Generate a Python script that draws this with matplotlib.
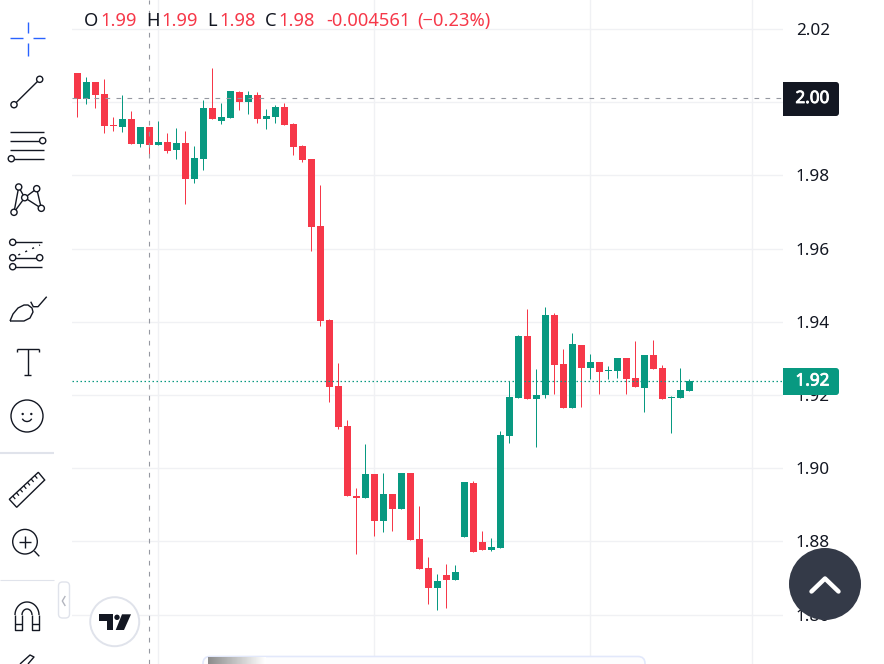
import matplotlib
matplotlib.use('Agg')
import matplotlib.pyplot as plt
import matplotlib.patheffects as pe
import numpy as np
from matplotlib.patches import Circle, FancyBboxPatch, Polygon, Rectangle, Arc

plt.rcParams['font.family'] = ['Noto Sans', 'DejaVu Sans']

RED = '#f63849'
GREEN = '#089981'
INK = '#131722'
GRID = '#f0f1f4'
CROSS = '#9598a1'
RULE = '#e0e3eb'

# OHLC
open_ = [2.0080, 2.0010, 2.0055, 2.0023, 1.9938, 1.9933, 1.9954, 1.9887, 1.9933, 1.9884,
         1.9892, 1.9871, 1.9889, 1.9791, 1.9846, 1.9984, 1.9950, 1.9958, 2.0028, 2.0002,
         2.0020, 1.9953, 1.9961, 1.9987, 1.9941, 1.9881, 1.9845, 1.9662, 1.9405, 1.9225,
         1.9116, 1.8924, 1.8920, 1.8984, 1.8857, 1.8930, 1.8890, 1.8987, 1.8807, 1.8728,
         1.8674, 1.8709, 1.8696, 1.8813, 1.8960, 1.8799, 1.8778, 1.8783, 1.9089, 1.9193,
         1.9362, 1.9190, 1.9199, 1.9419, 1.9285, 1.9166, 1.9337, 1.9275, 1.9290, 1.9267,
         1.9267, 1.9301, 1.9247, 1.9220, 1.9310, 1.9274, 1.9193, 1.9193, 1.9212]
high = [2.0080, 2.0069, 2.0055, 2.0064, 1.9960, 2.0020, 1.9976, 1.9933, 1.9933, 1.9949,
        1.9916, 1.9930, 1.9922, 1.9881, 2.0006, 2.0094, 1.9998, 2.0031, 2.0031, 2.0031,
        2.0028, 1.9982, 1.9993, 1.9998, 1.9943, 1.9883, 1.9845, 1.9774, 1.9408, 1.9288,
        1.9132, 1.8946, 1.9066, 1.8984, 1.8987, 1.8930, 1.8987, 1.8987, 1.8897, 1.8758,
        1.8711, 1.8739, 1.8736, 1.8963, 1.8965, 1.8829, 1.8810, 1.9102, 1.9239, 1.9364,
        1.9435, 1.9271, 1.9441, 1.9424, 1.9326, 1.9370, 1.9337, 1.9312, 1.9290, 1.9280,
        1.9301, 1.9301, 1.9348, 1.9310, 1.9351, 1.9282, 1.9198, 1.9274, 1.9244]
low = [1.9961, 1.9996, 1.9985, 1.9917, 1.9922, 1.9920, 1.9887, 1.9879, 1.9854, 1.9882,
       1.9862, 1.9846, 1.9723, 1.9780, 1.9816, 1.9953, 1.9942, 1.9958, 1.9980, 1.9969,
       1.9944, 1.9928, 1.9944, 1.9939, 1.9857, 1.9838, 1.9595, 1.9390, 1.9182, 1.9108,
       1.8923, 1.8766, 1.8920, 1.8815, 1.8827, 1.8829, 1.8890, 1.8805, 1.8726, 1.8630,
       1.8614, 1.8617, 1.8696, 1.8813, 1.8770, 1.8778, 1.8775, 1.8783, 1.9070, 1.9193,
       1.9188, 1.9059, 1.9193, 1.9204, 1.9166, 1.9166, 1.9168, 1.9245, 1.9204, 1.9245,
       1.9248, 1.9204, 1.9223, 1.9155, 1.9272, 1.9190, 1.9097, 1.9193, 1.9212]
close = [2.0010, 2.0055, 2.0021, 1.9936, 1.9935, 1.9954, 1.9887, 1.9933, 1.9884, 1.9892,
         1.9868, 1.9889, 1.9791, 1.9848, 1.9984, 1.9953, 1.9960, 2.0031, 2.0002, 2.0020,
         1.9953, 1.9963, 1.9987, 1.9939, 1.9879, 1.9843, 1.9660, 1.9403, 1.9223, 1.9114,
         1.8923, 1.8920, 1.8984, 1.8857, 1.8930, 1.8890, 1.8987, 1.8805, 1.8726, 1.8674,
         1.8692, 1.8696, 1.8717, 1.8963, 1.8770, 1.8778, 1.8785, 1.9091, 1.9195, 1.9362,
         1.9190, 1.9200, 1.9419, 1.9283, 1.9166, 1.9340, 1.9275, 1.9290, 1.9264, 1.9269,
         1.9301, 1.9245, 1.9223, 1.9310, 1.9272, 1.9190, 1.9195, 1.9214, 1.9238]

price_ticks = [2.02, 2.00, 1.98, 1.96, 1.94, 1.92, 1.90, 1.88, 1.86]
time_grid = [9, 33, 57, 75]
cross_bar = 8
cross_price = 2.0011
last_price = 1.9238

fig = plt.figure(figsize=(8.84, 6.64), dpi=100, facecolor='white')

# chart pane
ax = fig.add_axes([72 / 884, 0, 711 / 884, 1])
ax.set_xlim(-0.611, 78.39)
ax.set_ylim(1.84653, 2.02795)
for s in ax.spines.values():
    s.set_visible(False)
ax.set_xticks(time_grid)
ax.set_xticklabels([])
ax.set_yticks(price_ticks)
# 2.00 sits under the crosshair box, which prints its own label
ax.set_yticklabels(['' if p == 2.00 else f'{p:.2f}' for p in price_ticks], fontsize=12.3, color=INK)
ax.yaxis.tick_right()
ax.tick_params(length=0, pad=9.2)
ax.grid(color=GRID, linewidth=1)
ax.set_axisbelow(True)

bars = np.arange(len(close))
o = np.array(open_)
c = np.array(close)
colors = [GREEN if up else RED for up in c >= o]
ax.vlines(bars, low, high, colors=colors, linewidth=0.72, zorder=2)
ax.bar(bars, np.abs(c - o), bottom=np.minimum(o, c), width=7 / 9, color=colors, linewidth=0, zorder=3)

ax.axhline(last_price, color=GREEN, linewidth=0.9, linestyle=(0, (1.2, 2)), zorder=4)
ax.axvline(cross_bar, color=CROSS, linewidth=0.8, linestyle=(0, (4.2, 5.7)), zorder=5)
ax.axhline(cross_price, color=CROSS, linewidth=0.8, linestyle=(0, (4.2, 5.7)), zorder=5)

# everything outside the chart, in screen pixels
ui = fig.add_axes([0, 0, 1, 1], facecolor='none')
ui.set_xlim(0, 884)
ui.set_ylim(664, 0)
ui.axis('off')


def seg(pts, color=INK, lw=1.0, **kw):
    xy = np.array(pts, dtype=float)
    ui.plot(xy[:, 0], xy[:, 1], color=color, linewidth=lw, solid_capstyle=kw.pop('cap', 'butt'), **kw)


def node(x, y, r=3.1):
    ui.add_patch(Circle((x, y), r, facecolor='white', edgecolor=INK, linewidth=1.0, zorder=4))


def price_box(y0, y1, color, label):
    # square on the left, rounded on the right
    ui.add_patch(FancyBboxPatch((790, y0), 49, y1 - y0, boxstyle='round,pad=0,rounding_size=3',
                                facecolor=color, edgecolor='none', zorder=3, snap=True))
    ui.add_patch(Rectangle((783, y0), 14, y1 - y0, facecolor=color, edgecolor='none', zorder=3, snap=True))
    ui.text(812.5, (y0 + y1) / 2, label, color='white', fontsize=12.3, ha='center', va='center', zorder=4,
            path_effects=[pe.withStroke(linewidth=0.6, foreground='white')])


# legend line
parts = [(84, 'O', INK), (100, '1.99', RED), (146, 'H', INK), (161.5, '1.99', RED),
         (207.5, 'L', INK), (219, '1.98', RED), (265, 'C', INK), (278, '1.98', RED),
         (326, '-0.004561', RED), (417.5, '(\u22120.23%)', RED)]
for x, s, col in parts:
    ui.text(x, 21, s, color=col, fontsize=13.2, ha='left', va='center')

# price labels
price_box(82, 116, INK, '2.00')
price_box(368, 395, GREEN, '1.92')

# scroll button
ui.add_patch(Circle((825, 584), 36, facecolor='#343a48', edgecolor='none', zorder=3))
seg([(811.5, 591.5), (825, 578.5), (838.5, 591.5)], color='white', lw=3.2, zorder=4, cap='round')

# toolbar: cursor
seg([(10.3, 38.3), (22.7, 38.3)], color='#2962ff')
seg([(32.7, 38.3), (45, 38.3)], color='#2962ff')
seg([(27.7, 21.7), (27.7, 33.3)], color='#2962ff')
seg([(27.7, 43.3), (27.7, 55.7)], color='#2962ff')
# trend line
seg([(14, 104.7), (39.7, 79.3)])
node(14, 104.7)
node(39.7, 79.3)
# pitchfork
for y in [131.7, 140.7, 149.7, 158.7]:
    seg([(10.3, y), (43.7, y)])
node(42.7, 140.7)
node(11.3, 158.7)
# pattern
n = [(18.7, 187), (36.7, 188.7), (24.7, 197.7), (14, 212.3), (41.3, 208.3)]
for a, b in [(0, 3), (0, 2), (2, 3), (2, 1), (1, 4), (2, 4)]:
    seg([n[a], n[b]])
for x, y in n:
    node(x, y)
# fib
for y, x1 in [(242.3, 41.7), (257.7, 39.7), (266.7, 41.7)]:
    seg([(12.7, y), (x1, y)])
seg([(18.3, 255), (40, 245)], linestyle=(0, (1.5, 4)))
node(12.7, 242.3)
node(12.7, 257.7)
node(39.7, 257.7)
node(12.7, 266.7)
# brush
seg([(10, 321), (13, 314), (18, 308), (24, 305), (28, 305), (32, 308), (33, 312), (30, 318), (24, 321), (10, 321)])
seg([(30.7, 301.7), (33.3, 306.7), (38, 306.7), (46.7, 296.7)])
# text tool
seg([(16.7, 349.3), (38.7, 349.3)])
seg([(16.7, 349.3), (16.7, 352)])
seg([(38.7, 349.3), (38.7, 352)])
seg([(27.7, 349.3), (27.7, 375)])
seg([(24, 375), (31.3, 375)])
# emoji
ui.add_patch(Circle((27, 416), 16, facecolor='none', edgecolor=INK, linewidth=1.0))
ui.add_patch(Circle((22.7, 414), 1.2, facecolor=INK, edgecolor='none'))
ui.add_patch(Circle((31.3, 414), 1.2, facecolor=INK, edgecolor='none'))
ui.add_patch(Arc((27, 417), 10, 9, theta1=20, theta2=160, color=INK, linewidth=1.0))
seg([(0, 453), (54, 453)], color=RULE, lw=1.5)
# ruler
ui.add_patch(Polygon([(9.3, 499.3), (38.3, 472.3), (44.7, 480), (16.7, 507.3)], closed=True,
                     facecolor='none', edgecolor=INK, linewidth=1.0))
for t in np.linspace(0.12, 0.88, 7):
    x0, y0 = 9.3 + 29 * t, 499.3 - 27 * t
    seg([(x0, y0), (x0 + 2.5, y0 + 3)], lw=0.9)
# zoom tool
ui.add_patch(Circle((25, 541.7), 12.3, facecolor='none', edgecolor=INK, linewidth=1.0))
seg([(19, 541.7), (31, 541.7)])
seg([(25, 535.7), (25, 547.7)])
seg([(34.3, 551), (39.3, 556.3)])
seg([(0, 580), (54, 580)], color=RULE, lw=0.8)
# magnet
t = np.linspace(np.pi, 2 * np.pi, 40)
seg(np.column_stack([27 + 12 * np.cos(t), 615 + 13 * np.sin(t)]))
seg(np.column_stack([27 + 5 * np.cos(t), 615 + 6 * np.sin(t)]))
seg([(15, 615), (15, 630), (22, 630), (22, 615)])
seg([(39, 615), (39, 630), (32, 630), (32, 615)])
seg([(15, 624), (22, 624)])
seg([(32, 624), (39, 624)])
# cut off icon at the bottom
seg([(20, 664), (30, 655), (34, 657), (28, 664)])
# collapse handle
ui.add_patch(FancyBboxPatch((58.5, 582), 11, 36, boxstyle='round,pad=0,rounding_size=4',
                            facecolor='white', edgecolor=RULE, linewidth=1.0))
seg([(65.3, 596), (62.3, 601), (65.3, 606)], color='#b2b5be', lw=1.0)

# logo
ui.add_patch(Circle((114.7, 621.7), 24.5, facecolor='white', edgecolor=RULE, linewidth=1.4, zorder=3))
ui.add_patch(Polygon([(99, 614.3), (113.3, 614.3), (113.3, 630), (106.7, 630), (106.7, 621), (99, 621)],
                     closed=True, facecolor=INK, edgecolor='none', zorder=4))
ui.add_patch(Circle((117, 617.3), 2.7, facecolor=INK, edgecolor='none', zorder=4))
ui.add_patch(Polygon([(122, 614.3), (131, 614.3), (124, 630), (115.7, 630)], closed=True,
                     facecolor=INK, edgecolor='none', zorder=4))

# bottom panel
ui.add_patch(FancyBboxPatch((203, 656.5), 442, 20, boxstyle='round,pad=0,rounding_size=7',
                            facecolor='#fdfdfe', edgecolor='#e2e8fb', linewidth=1.2, zorder=3))
fade = np.linspace(0.55, 1, 64).reshape(1, -1)
ui.imshow(fade, extent=(208, 266, 664, 657.5), cmap='gray', vmin=0, vmax=1, aspect='auto', zorder=4)
ui.set_xlim(0, 884)
ui.set_ylim(664, 0)

fig.savefig('out.png', dpi=100)
